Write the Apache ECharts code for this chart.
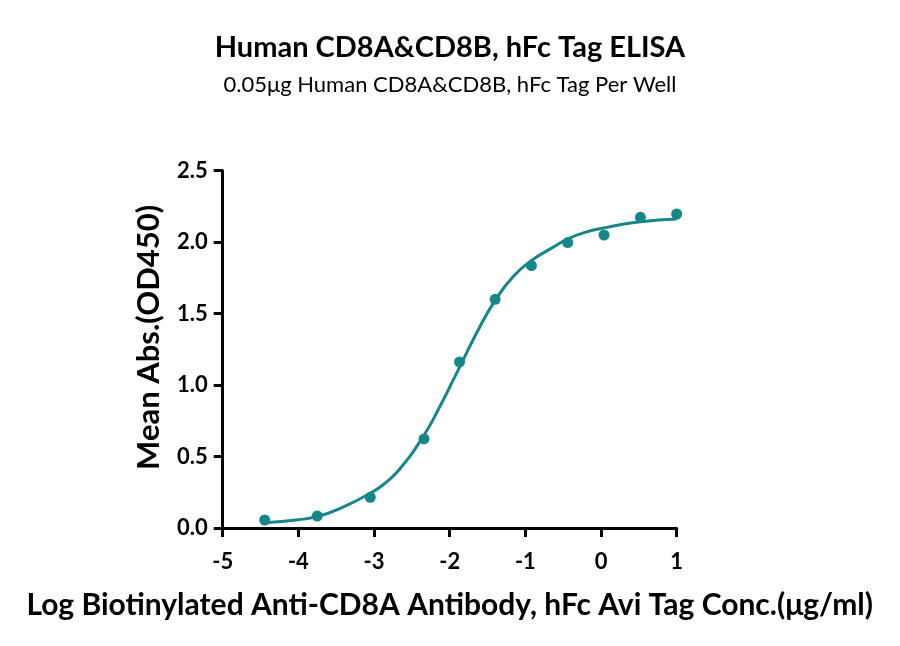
<!DOCTYPE html>
<html>
<head>
<meta charset="utf-8">
<script src="https://cdn.jsdelivr.net/npm/echarts@6/dist/echarts.min.js"></script>
<style>html,body{margin:0;padding:0;background:#fff;}#c{width:900px;height:646px;}</style>
</head>
<body>
<div id="c"></div>
<script>
const titleText = 'Human CD8A&CD8B, hFc Tag ELISA';
const subtitleText = '0.05μg Human CD8A&CD8B, hFc Tag Per Well';
const xName = 'Log Biotinylated Anti-CD8A Antibody, hFc Avi Tag Conc.(μg/ml)';
const yName = 'Mean Abs.(OD450)';
// measured points
const logConc = [-4.445, -3.75, -3.05, -2.34, -1.87, -1.40, -0.92, -0.44, 0.04, 0.52, 1.0];
const od450 = [0.056, 0.084, 0.215, 0.623, 1.162, 1.60, 1.836, 1.997, 2.05, 2.174, 2.197];
// fitted curve
const curveX = [-4.445, -4.0, -3.75, -3.445, -3.05, -2.85, -2.657, -2.35, -2.13, -1.953, -1.6, -1.39, -1.16, -0.91, -0.63, -0.43, -0.2, 0.04, 0.52, 1.0];
const curveY = [0.037, 0.058, 0.08, 0.138, 0.243, 0.315, 0.415, 0.64, 0.85, 1.036, 1.41, 1.6, 1.76, 1.875, 1.965, 2.025, 2.07, 2.10, 2.143, 2.162];

const teal = '#15878a';
const font = 'Lato';
const chart = echarts.init(document.getElementById('c'));
chart.setOption({
  animation: false,
  backgroundColor: '#fff',
  title: [
    { text: titleText, left: 'center', top: 28, textStyle: { fontFamily: font, fontSize: 29, fontWeight: 'bold', color: '#000' } },
    { text: subtitleText, left: 'center', top: 69, textStyle: { fontFamily: font, fontSize: 22, fontWeight: 'normal', color: '#000' } }
  ],
  grid: { left: 222.7, right: 223.3, top: 170.7, bottom: 118, containLabel: false },
  xAxis: {
    type: 'value', min: -5, max: 1, interval: 1,
    name: xName, nameLocation: 'middle', nameGap: 62,
    nameTextStyle: { fontFamily: font, fontSize: 30, fontWeight: 'bold', color: '#000' },
    axisLine: { show: true, onZero: false, lineStyle: { color: '#000', width: 3 } },
    axisTick: { show: true, length: 9, lineStyle: { color: '#000', width: 3 } },
    axisLabel: { fontFamily: font, fontSize: 22, fontWeight: 'bold', color: '#000', margin: 23 },
    splitLine: { show: false }
  },
  yAxis: {
    type: 'value', min: 0, max: 2.5, interval: 0.5,
    name: yName, nameLocation: 'middle', nameGap: 58,
    nameTextStyle: { fontFamily: font, fontSize: 31, fontWeight: 'bold', color: '#000', padding: [0, 0, 0, 24] },
    axisLine: { show: true, onZero: false, lineStyle: { color: '#000', width: 3 } },
    axisTick: { show: true, length: 9, lineStyle: { color: '#000', width: 3 } },
    axisLabel: { fontFamily: font, fontSize: 22, fontWeight: 'bold', color: '#000', margin: 15, formatter: v => v.toFixed(1) },
    splitLine: { show: false }
  },
  series: [
    { type: 'line', data: curveX.map((x, i) => [x, curveY[i]]), smooth: 0.5, showSymbol: false, lineStyle: { color: teal, width: 3 }, z: 2 },
    { type: 'scatter', data: logConc.map((x, i) => [x, od450[i]]), symbolSize: 11, itemStyle: { color: teal, opacity: 1 }, z: 3 }
  ]
});
</script>
</body>
</html>
